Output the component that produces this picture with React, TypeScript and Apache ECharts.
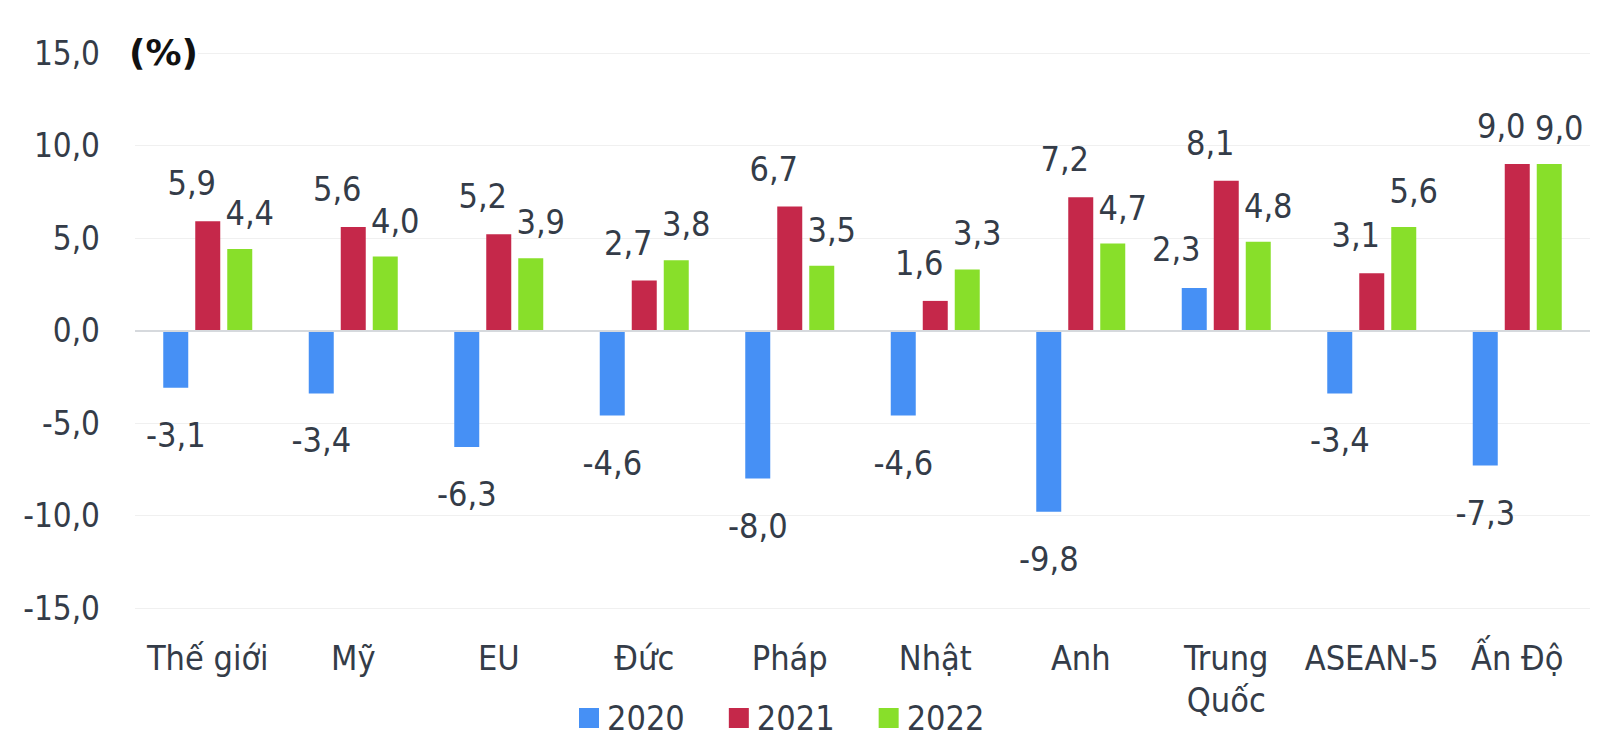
import React, { useEffect, useRef } from "react";
import * as echarts from "echarts";

const categories = ["Thế giới", "Mỹ", "EU", "Đức", "Pháp", "Nhật", "Anh", "Trung\nQuốc", "ASEAN-5", "Ấn Độ"];
const seriesNames = ["2020", "2021", "2022"];
const growth2020 = [-3.1, -3.4, -6.3, -4.6, -8.0, -4.6, -9.8, 2.3, -3.4, -7.3];
const growth2021 = [5.9, 5.6, 5.2, 2.7, 6.7, 1.6, 7.2, 8.1, 3.1, 9.0];
const growth2022 = [4.4, 4.0, 3.9, 3.8, 3.5, 3.3, 4.7, 4.8, 5.6, 9.0];
const yMin = -15;
const yMax = 15;
const yInterval = 5;
const unitLabel = "(%)";

const FONT = '"DejaVu Sans Condensed", "DejaVu Sans", sans-serif';
const TEXT = "#343c48";
const COLORS = ["#4690f5", "#c5284a", "#88df2a"];

const fmt = (v: number) => v.toFixed(1).replace(".", ",");

function makeData(values: number[], posOffset: number[], posDist: number) {
  return values.map((v) => ({
    value: v,
    label:
      v < 0
        ? { position: "bottom", distance: 30, offset: [0, 0] }
        : { position: "top", distance: posDist, offset: posOffset },
  }));
}

export default function App() {
  const ref = useRef<HTMLDivElement>(null);
  useEffect(() => {
    document.body.style.margin = "0";
    if (!ref.current) return;
    const chart = echarts.init(ref.current, undefined, { renderer: "svg" });
    const labelBase = {
      show: true,
      fontFamily: FONT,
      fontSize: 34,
      color: TEXT,
      formatter: (p: any) => fmt(p.value),
    };
    chart.setOption({
      animation: false,
      backgroundColor: "#ffffff",
      textStyle: { fontFamily: FONT },
      grid: { left: 135, right: 10, top: 53, bottom: 143 },
      legend: {
        data: seriesNames,
        left: 574,
        top: 696,
        itemWidth: 20,
        itemHeight: 20,
        itemGap: 44,
        icon: "rect",
        textStyle: { fontFamily: FONT, fontSize: 34, color: TEXT, padding: [0, 0, 0, 3] },
      },
      xAxis: {
        type: "category",
        data: categories,
        axisLine: { show: false, onZero: false },
        axisTick: { show: false },
        axisLabel: {
          fontFamily: FONT,
          fontSize: 34,
          color: TEXT,
          margin: 29,
          lineHeight: 42,
          interval: 0,
        },
      },
      yAxis: {
        type: "value",
        min: yMin,
        max: yMax,
        interval: yInterval,
        axisLine: { show: false },
        axisTick: { show: false },
        splitLine: { lineStyle: { color: "#f0f0f0", width: 1 } },
        axisLabel: {
          fontFamily: FONT,
          fontSize: 33,
          color: TEXT,
          margin: 35,
          formatter: (v: number) => fmt(v),
        },
      },
      graphic: [
        {
          type: "text",
          left: 129,
          top: 34,
          z: 100,
          style: {
            text: unitLabel,
            font: 'bold 36px "DejaVu Sans", sans-serif',
            fill: "#111111",
            backgroundColor: "#ffffff",
          },
        },
      ],
      series: [
        {
          name: seriesNames[0],
          type: "bar",
          barWidth: 25,
          barGap: "28%",
          itemStyle: { color: COLORS[0] },
          label: labelBase,
          data: makeData(growth2020, [-18, 0], 22),
          markLine: {
            silent: true,
            symbol: "none",
            label: { show: false },
            lineStyle: { color: "#d6d9dd", width: 2, type: "solid" },
            data: [{ yAxis: 0 }],
          },
        },
        {
          name: seriesNames[1],
          type: "bar",
          barWidth: 25,
          barGap: "28%",
          itemStyle: { color: COLORS[1] },
          label: labelBase,
          data: makeData(growth2021, [-16, 0], 21),
        },
        {
          name: seriesNames[2],
          type: "bar",
          barWidth: 25,
          barGap: "28%",
          itemStyle: { color: COLORS[2] },
          label: labelBase,
          data: makeData(growth2022, [10, 0], 19),
        },
      ],
    });
    return () => chart.dispose();
  }, []);
  return <div ref={ref} style={{ width: 1600, height: 751 }} />;
}
